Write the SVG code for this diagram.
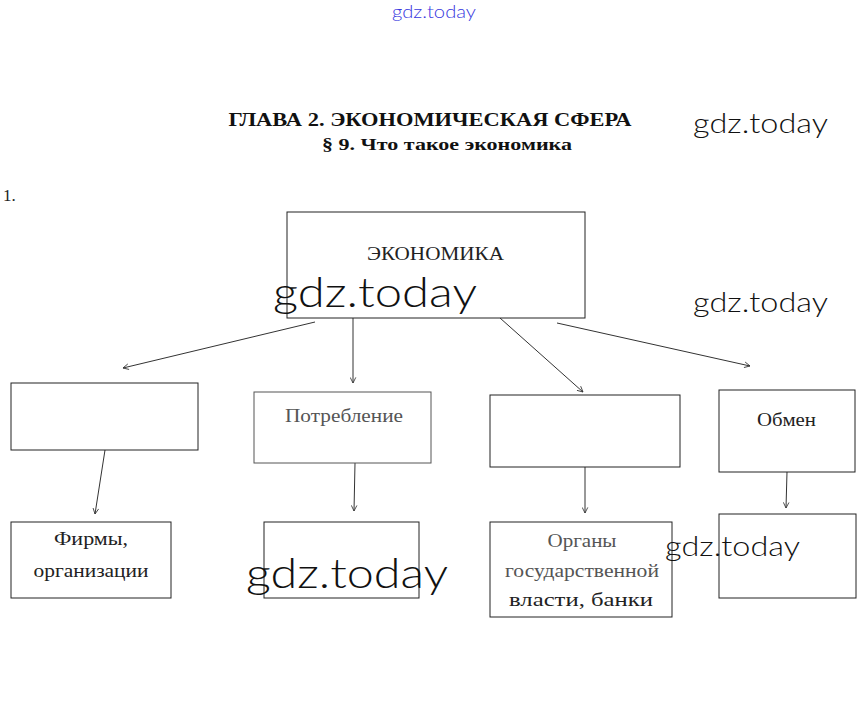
<svg xmlns="http://www.w3.org/2000/svg" width="866" height="720" viewBox="0 0 866 720">
<style>
.box{fill:#fff;stroke:#222;stroke-width:1}
.lbl{font-family:"Liberation Serif","Times New Roman",serif;font-size:19px;fill:#222;text-anchor:middle}
.head{font-family:"Liberation Serif","Times New Roman",serif;font-weight:bold;fill:#111;text-anchor:middle}
.wm{font-family:Lato,"Open Sans",sans-serif;font-weight:300;fill:#111}
.con{stroke:#333;stroke-width:1;fill:none;marker-end:url(#ah)}
</style>
<defs>
<marker id="ah" viewBox="0 0 10 10" refX="9" refY="5" markerWidth="7" markerHeight="7" orient="auto" markerUnits="userSpaceOnUse">
<path d="M1,1 L9,5 L1,9" fill="none" stroke="#333" stroke-width="1.2"/>
</marker>
</defs>
<rect width="866" height="720" fill="#fff"/>
<text x="392" y="18" class="wm" style="fill:#3838e0;font-size:17px" textLength="84" lengthAdjust="spacingAndGlyphs">gdz.today</text>
<text x="430" y="126" class="head" font-size="18.5" textLength="403" lengthAdjust="spacingAndGlyphs">ГЛАВА 2. ЭКОНОМИЧЕСКАЯ СФЕРА</text>
<text x="447" y="150" class="head" font-size="17.5" textLength="250" lengthAdjust="spacingAndGlyphs">§ 9. Что такое экономика</text>
<text x="3" y="201" style="font-family:'Liberation Serif',serif;font-size:17px;fill:#222">1.</text>

<g id="connectors">
<line class="con" x1="315" y1="322" x2="123" y2="368"/>
<line class="con" x1="353" y1="318" x2="353" y2="383"/>
<line class="con" x1="500" y1="318" x2="583" y2="392"/>
<line class="con" x1="557" y1="323" x2="750" y2="366"/>
<line class="con" x1="105" y1="450" x2="95" y2="514"/>
<line class="con" x1="355" y1="463" x2="354" y2="511"/>
<line class="con" x1="585" y1="467" x2="585" y2="513"/>
<line class="con" x1="787" y1="472" x2="786" y2="508"/>
</g>

<g id="economy">
<rect class="box" x="287" y="212" width="298" height="106"/>
<text class="lbl" x="435.5" y="260" textLength="137" lengthAdjust="spacingAndGlyphs">ЭКОНОМИКА</text>
</g>
<g id="node-empty1">
<rect class="box" x="11" y="383" width="187" height="67"/>
</g>
<g id="consumption">
<rect class="box" x="254" y="392" width="177" height="71" style="stroke:#555"/>
<text class="lbl" x="344" y="422" style="fill:#555" textLength="118" lengthAdjust="spacingAndGlyphs">Потребление</text>
</g>
<g id="node-empty3">
<rect class="box" x="490" y="395" width="190" height="72"/>
</g>
<g id="exchange">
<rect class="box" x="719" y="390" width="136" height="82"/>
<text class="lbl" x="786.5" y="426" textLength="59" lengthAdjust="spacingAndGlyphs">Обмен</text>
</g>
<g id="firms">
<rect class="box" x="11" y="522" width="160" height="76"/>
<text class="lbl" x="91" y="545" textLength="74" lengthAdjust="spacingAndGlyphs">Фирмы,</text>
<text class="lbl" x="91" y="577" textLength="115" lengthAdjust="spacingAndGlyphs">организации</text>
</g>
<g id="node-empty-bottom2">
<rect class="box" x="264" y="522" width="155" height="76"/>
</g>
<g id="authorities">
<rect class="box" x="490" y="522" width="182" height="95"/>
<text class="lbl" x="582" y="547" style="fill:#555" textLength="69" lengthAdjust="spacingAndGlyphs">Органы</text>
<text class="lbl" x="582" y="577" style="fill:#555" textLength="154" lengthAdjust="spacingAndGlyphs">государственной</text>
<text class="lbl" x="581" y="606" textLength="144" lengthAdjust="spacingAndGlyphs">власти, банки</text>
</g>
<g id="node-empty-bottom4">
<rect class="box" x="719" y="514" width="137" height="84"/>
</g>

<text x="693" y="133" class="wm" font-size="28" textLength="135" lengthAdjust="spacingAndGlyphs">gdz.today</text>
<text x="273" y="307" class="wm" font-size="42" textLength="204" lengthAdjust="spacingAndGlyphs">gdz.today</text>
<text x="693" y="312" class="wm" font-size="28" textLength="135" lengthAdjust="spacingAndGlyphs">gdz.today</text>
<text x="246" y="588" class="wm" font-size="42" textLength="202" lengthAdjust="spacingAndGlyphs">gdz.today</text>
<text x="665" y="556" class="wm" font-size="28" textLength="135" lengthAdjust="spacingAndGlyphs">gdz.today</text>
</svg>
